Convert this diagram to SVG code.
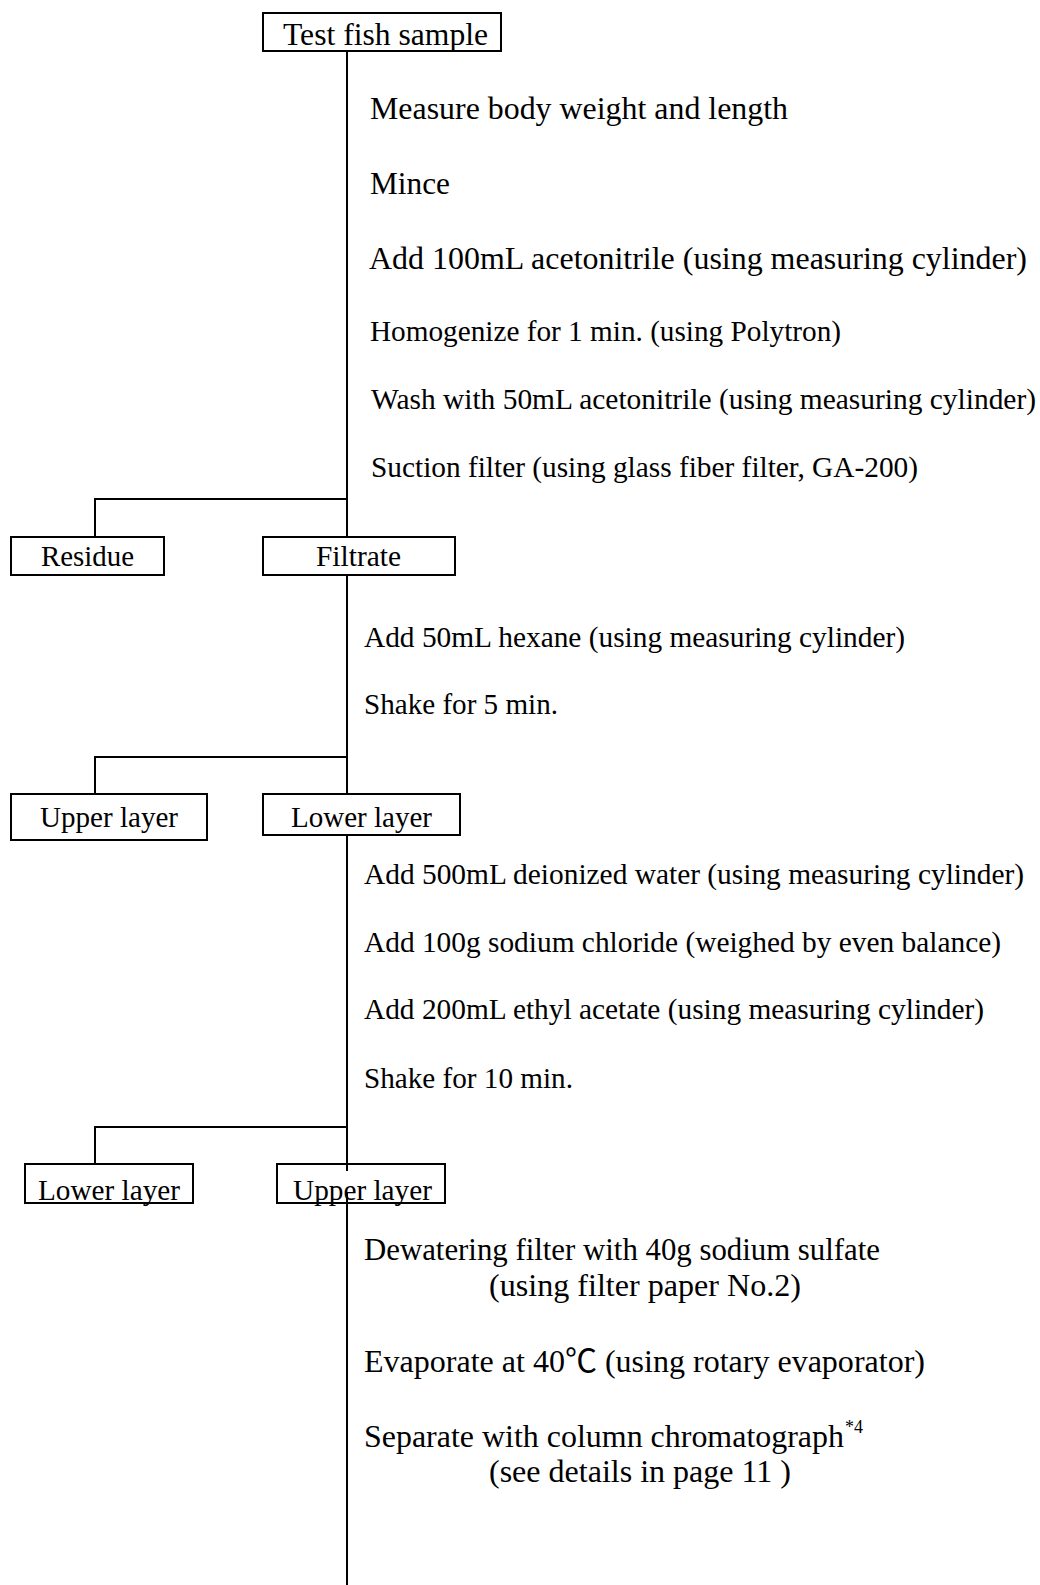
<svg xmlns="http://www.w3.org/2000/svg" width="1040" height="1585" viewBox="0 0 1040 1585" font-family="'Liberation Serif', 'Times New Roman', serif">
<style>
text{font-family:'Liberation Serif','Times New Roman','Noto Sans CJK JP',serif;fill:#000}
.box{fill:#fff;stroke:#000;stroke-width:2}
.ln{stroke:#000;stroke-width:2;fill:none}
.s32{font-size:32px}
.s31{font-size:31px}
.s29{font-size:29.4px}
.sup{font-size:18px}
</style>
<rect width="1040" height="1585" fill="#fff"/>
<g id="connectors">
<path class="ln" d="M347 51V537M347 575V798M347 835V1171M347 1193V1585"/>
<path class="ln" d="M95 537V499H347"/>
<path class="ln" d="M95 794V757H347"/>
<path class="ln" d="M95 1164V1127H347"/>
</g>
<g id="n-test">
<rect class="box" x="263" y="13" width="238" height="38"/>
<text class="s31" x="283" y="45" textLength="205" lengthAdjust="spacingAndGlyphs">Test fish sample</text>
</g>
<g id="steps1">
<text class="s32" x="370" y="119" textLength="418" lengthAdjust="spacingAndGlyphs">Measure body weight and length</text>
<text class="s32" x="370" y="194" textLength="80" lengthAdjust="spacingAndGlyphs">Mince</text>
<text class="s32" x="369" y="269" textLength="658" lengthAdjust="spacingAndGlyphs">Add 100mL acetonitrile (using measuring cylinder)</text>
<text class="s29" x="370" y="341" textLength="471" lengthAdjust="spacingAndGlyphs">Homogenize for 1 min. (using Polytron)</text>
<text class="s29" x="371" y="409" textLength="665" lengthAdjust="spacingAndGlyphs">Wash with 50mL acetonitrile (using measuring cylinder)</text>
<text class="s29" x="371" y="477" textLength="547" lengthAdjust="spacingAndGlyphs">Suction filter (using glass fiber filter, GA-200)</text>
</g>
<g id="n-residue">
<rect class="box" x="11" y="537" width="153" height="38"/>
<text class="s29" x="41" y="566" textLength="93" lengthAdjust="spacingAndGlyphs">Residue</text>
</g>
<g id="n-filtrate">
<rect class="box" x="263" y="537" width="192" height="38"/>
<text class="s29" x="316" y="566" textLength="85" lengthAdjust="spacingAndGlyphs">Filtrate</text>
</g>
<g id="steps2">
<text class="s29" x="364" y="647" textLength="541" lengthAdjust="spacingAndGlyphs">Add 50mL hexane (using measuring cylinder)</text>
<text class="s29" x="364" y="714" textLength="194" lengthAdjust="spacingAndGlyphs">Shake for 5 min.</text>
</g>
<g id="n-upper1">
<rect class="box" x="11" y="794" width="196" height="46"/>
<text class="s29" x="40" y="827" textLength="138" lengthAdjust="spacingAndGlyphs">Upper layer</text>
</g>
<g id="n-lower1">
<rect class="box" x="263" y="794" width="197" height="41"/>
<text class="s29" x="291" y="827" textLength="141" lengthAdjust="spacingAndGlyphs">Lower layer</text>
</g>
<g id="steps3">
<text class="s29" x="364" y="884" textLength="660" lengthAdjust="spacingAndGlyphs">Add 500mL deionized water (using measuring cylinder)</text>
<text class="s29" x="364" y="952" textLength="637" lengthAdjust="spacingAndGlyphs">Add 100g sodium chloride (weighed by even balance)</text>
<text class="s29" x="364" y="1019" textLength="620" lengthAdjust="spacingAndGlyphs">Add 200mL ethyl acetate (using measuring cylinder)</text>
<text class="s29" x="364" y="1088" textLength="209" lengthAdjust="spacingAndGlyphs">Shake for 10 min.</text>
</g>
<g id="n-lower2">
<rect class="box" x="25" y="1164" width="168" height="39"/>
<text class="s29" x="38" y="1200" textLength="142" lengthAdjust="spacingAndGlyphs">Lower layer</text>
</g>
<g id="n-upper2">
<rect class="box" x="277" y="1164" width="168" height="39" style="fill:none"/>
<text class="s29" x="293" y="1200" textLength="139" lengthAdjust="spacingAndGlyphs">Upper layer</text>
</g>
<g id="steps4">
<text class="s31" x="364" y="1260" textLength="516" lengthAdjust="spacingAndGlyphs">Dewatering filter with 40g sodium sulfate</text>
<text class="s32" x="489" y="1296" textLength="312" lengthAdjust="spacingAndGlyphs">(using filter paper No.2)</text>
<text class="s32" x="364" y="1372" textLength="561" lengthAdjust="spacingAndGlyphs">Evaporate at 40℃ (using rotary evaporator)</text>
<text class="s32" x="364" y="1447" textLength="480" lengthAdjust="spacingAndGlyphs">Separate with column chromatograph</text>
<text class="sup" x="845" y="1433">*4</text>
<text class="s32" x="489" y="1482" textLength="302" lengthAdjust="spacingAndGlyphs">(see details in page 11 )</text>
</g>
</svg>
